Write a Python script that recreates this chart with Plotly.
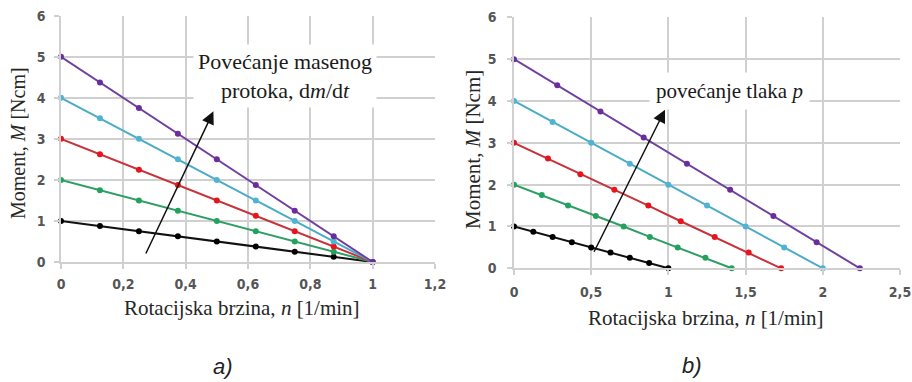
import plotly.graph_objects as go

# ---------------- data ----------------
series_names = ["1", "2", "3", "4", "5"]
line_colors = ["#111111", "#2E9E64", "#C8323A", "#4BACC6", "#7040A0"]
marker_colors = ["#000000", "#23A25E", "#E8141C", "#4FB4D2", "#6A2E9C"]

# a) increasing mass flow
a_x = [0, 0.125, 0.25, 0.375, 0.5, 0.625, 0.75, 0.875, 1]
a_y = [
    [1, 0.875, 0.75, 0.625, 0.5, 0.375, 0.25, 0.125, 0],
    [2, 1.75, 1.5, 1.25, 1, 0.75, 0.5, 0.25, 0],
    [3, 2.625, 2.25, 1.875, 1.5, 1.125, 0.75, 0.375, 0],
    [4, 3.5, 3, 2.5, 2, 1.5, 1, 0.5, 0],
    [5, 4.375, 3.75, 3.125, 2.5, 1.875, 1.25, 0.625, 0],
]

# b) increasing pressure
b_x = [
    [0, 0.125, 0.25, 0.375, 0.5, 0.625, 0.75, 0.875, 1],
    [0, 0.18, 0.35, 0.53, 0.71, 0.88, 1.06, 1.24, 1.41],
    [0, 0.22, 0.43, 0.65, 0.87, 1.08, 1.30, 1.52, 1.73],
    [0, 0.25, 0.5, 0.75, 1, 1.25, 1.5, 1.75, 2],
    [0, 0.28, 0.56, 0.84, 1.12, 1.40, 1.68, 1.96, 2.24],
]
b_y = a_y

a_xticks = [0, 0.2, 0.4, 0.6, 0.8, 1, 1.2]
a_xticklabels = ["0", "0,2", "0,4", "0,6", "0,8", "1", "1,2"]
b_xticks = [0, 0.5, 1, 1.5, 2, 2.5]
b_xticklabels = ["0", "0,5", "1", "1,5", "2", "2,5"]
yticks = [0, 1, 2, 3, 4, 5, 6]
yticklabels = ["0", "1", "2", "3", "4", "5", "6"]

# ---------------- figure ----------------
fig = go.Figure()
for i in range(5):
    fig.add_trace(go.Scatter(
        x=a_x, y=a_y[i], mode="lines+markers", name=series_names[i],
        line=dict(color=line_colors[i], width=2),
        marker=dict(color=marker_colors[i], size=6),
        cliponaxis=False, xaxis="x", yaxis="y", showlegend=False))
for i in range(5):
    fig.add_trace(go.Scatter(
        x=b_x[i], y=b_y[i], mode="lines+markers", name=series_names[i],
        line=dict(color=line_colors[i], width=2),
        marker=dict(color=marker_colors[i], size=6),
        cliponaxis=False, xaxis="x2", yaxis="y2", showlegend=False))

W, H = 912, 382
def px_x(p): return p / W
def px_y(p): return 1 - p / H

grid = "#D0D0D0"
tickfont = dict(family="DejaVu Sans Condensed, Liberation Sans Narrow, Arial Narrow, sans-serif",
                size=14, color="#555555", weight="bold")
axis_common = dict(showgrid=True, gridcolor=grid, gridwidth=1.5, zeroline=False,
                   showline=True, linecolor=grid, linewidth=1.5,
                   ticks="outside", ticklen=5, tickcolor=grid, tickwidth=1.5,
                   tickfont=tickfont, fixedrange=True, automargin=False)

fig.update_layout(
    width=W, height=H,
    margin=dict(l=0, r=0, t=0, b=0, autoexpand=False),
    paper_bgcolor="white", plot_bgcolor="white",
    xaxis=dict(domain=[px_x(61), px_x(435)], range=[0, 1.2], anchor="y",
               tickvals=a_xticks, ticktext=a_xticklabels, ticklabelstandoff=3, **axis_common),
    yaxis=dict(domain=[px_y(262), px_y(15.7)], range=[0, 6], anchor="x",
               tickvals=yticks, ticktext=yticklabels, ticklabelstandoff=6, **axis_common),
    xaxis2=dict(domain=[px_x(514), px_x(900)], range=[0, 2.5], anchor="y2",
                tickvals=b_xticks, ticktext=b_xticklabels, ticklabelstandoff=5, **axis_common),
    yaxis2=dict(domain=[px_y(268.3), px_y(17.3)], range=[0, 6], anchor="x2",
                tickvals=yticks, ticktext=yticklabels, ticklabelstandoff=8, **axis_common),
)

serif = "Liberation Serif, Times New Roman, serif"
C = dict(xanchor="center", yanchor="middle", showarrow=False, xref="paper", yref="paper")
ann = []
# axis titles
ann.append(dict(text="Moment, <i>M</i> [Ncm]", x=px_x(18), y=px_y(143), textangle=-90,
                font=dict(family=serif, size=20, color="#262626"), **C))
ann.append(dict(text="Moment, <i>M</i> [Ncm]", x=px_x(473), y=px_y(150), textangle=-90,
                font=dict(family=serif, size=21, color="#262626"), **C))
ann.append(dict(text="Rotacijska brzina, <i>n</i> [1/min]", x=px_x(242), y=px_y(308),
                font=dict(family=serif, size=21, color="#262626"), **C))
ann.append(dict(text="Rotacijska brzina, <i>n</i> [1/min]", x=px_x(706), y=px_y(318),
                font=dict(family=serif, size=21, color="#262626"), **C))
# panel labels
ann.append(dict(text="<i>a)</i>", x=px_x(223), y=px_y(366),
                font=dict(family="Liberation Sans, Arial, sans-serif", size=22, color="#222222"), **C))
ann.append(dict(text="<i>b)</i>", x=px_x(692), y=px_y(365),
                font=dict(family="Liberation Sans, Arial, sans-serif", size=22, color="#222222"), **C))
# arrows
ann.append(dict(x=0.489, y=3.67, ax=0.27, ay=0.17, xref="x", yref="y", axref="x", ayref="y",
                text="", showarrow=True, arrowhead=2, arrowsize=1.7, arrowwidth=1.5,
                arrowcolor="#111111"))
ann.append(dict(x=0.978, y=3.79, ax=0.514, ay=0.36, xref="x2", yref="y2", axref="x2", ayref="y2",
                text="", showarrow=True, arrowhead=2, arrowsize=1.7, arrowwidth=1.5,
                arrowcolor="#111111"))
# text boxes
ann.append(dict(text="Povećanje masenog<br>protoka, d<i>m</i>/d<i>t</i>", x=px_x(285), y=px_y(76),
                bgcolor="white", borderpad=4,
                font=dict(family=serif, size=22, color="#1a1a1a"), **C))
ann.append(dict(text="povećanje tlaka <i>p</i>", x=px_x(729), y=px_y(91),
                bgcolor="white", borderpad=6,
                font=dict(family=serif, size=21, color="#1a1a1a"), **C))
fig.update_layout(annotations=ann)

fig.write_html("out.html", config={"displayModeBar": False},
               post_script="document.body.style.margin='0px';")
